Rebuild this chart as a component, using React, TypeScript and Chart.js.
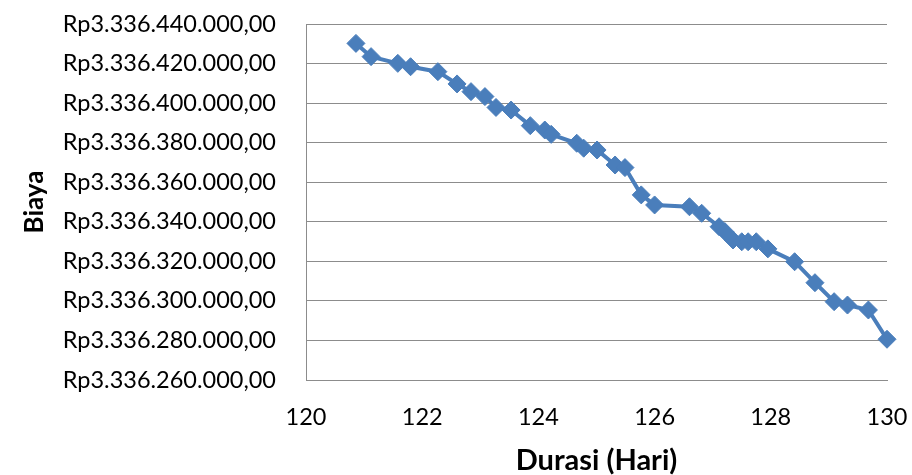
import React, { useEffect, useRef } from "react";
import { Chart, registerables } from "chart.js";

Chart.register(...registerables);

const durasi: number[] = [
  120.86, 121.12, 121.58, 121.8, 122.27, 122.6, 122.84, 123.08, 123.27, 123.53,
  123.86, 124.11, 124.22, 124.66, 124.78, 125.01, 125.32, 125.49, 125.77, 126.0,
  126.6, 126.81, 127.11, 127.21, 127.35, 127.5, 127.61, 127.75, 127.95, 128.41,
  128.76, 129.09, 129.32, 129.68, 130.0,
];

const biaya: number[] = [
  3336430200, 3336423500, 3336420100, 3336418400, 3336415900, 3336409700, 3336405800, 3336403300, 3336397800, 3336396500,
  3336388600, 3336386400, 3336384200, 3336379700, 3336377200, 3336376300, 3336368700, 3336367400, 3336353600, 3336348500,
  3336347600, 3336344300, 3336337500, 3336335000, 3336330800, 3336329900, 3336329900, 3336329900, 3336326300, 3336319800,
  3336309200, 3336299600, 3336297900, 3336295400, 3336280600,
];

const xMin = 120;
const xMax = 130;
const xStep = 2;
const yMin = 3336260000;
const yMax = 3336440000;
const yStep = 20000;

const xTitle = "Durasi (Hari)";
const yTitle = "Biaya";

function formatRp(v: number): string {
  const s = Math.round(v).toString().replace(/\B(?=(\d{3})+(?!\d))/g, ".");
  return "Rp" + s + ",00";
}

export default function App() {
  const ref = useRef<HTMLCanvasElement | null>(null);

  useEffect(() => {
    if (!ref.current) return;
    const color = "#4A7EBB";
    const gridColor = "#8C8C8C";
    const chart = new Chart(ref.current, {
      type: "line",
      data: {
        datasets: [
          {
            data: durasi.map((x, i) => ({ x, y: biaya[i] })),
            borderColor: color,
            backgroundColor: color,
            borderWidth: 4,
            pointStyle: "rectRot",
            pointRadius: 9,
            pointBorderWidth: 1,
            pointBackgroundColor: color,
            pointBorderColor: color,
            tension: 0,
            fill: false,
            clip: false,
          },
        ],
      },
      options: {
        animation: false,
        responsive: false,
        maintainAspectRatio: false,
        layout: { padding: { left: 0, top: 24, right: 25, bottom: 0 } },
        plugins: {
          legend: { display: false },
          tooltip: { enabled: false },
        },
        scales: {
          x: {
            type: "linear",
            min: xMin,
            max: xMax,
            ticks: {
              stepSize: xStep,
              padding: 0,
              color: "#000",
              font: { family: "Lato", size: 23.5, lineHeight: 1.2 },
              maxRotation: 0,
            },
            grid: {
              display: true,
              color: "rgba(0,0,0,0)",
              drawTicks: true,
              tickLength: 23,
              tickColor: "rgba(0,0,0,0)",
            },
            border: { display: true, color: gridColor, width: 1 },
            title: {
              display: true,
              text: xTitle,
              color: "#000",
              font: { family: "Lato", size: 29, weight: "bold", lineHeight: 1.2 },
              padding: { top: 0, bottom: -3 },
            },
            afterFit: (s: any) => {
              s.height = 95;
            },
          },
          y: {
            type: "linear",
            min: yMin,
            max: yMax,
            ticks: {
              stepSize: yStep,
              padding: 0,
              color: "#000",
              font: { family: "Lato", size: 23.5, lineHeight: 1.2 },
              callback: (v: any) => formatRp(Number(v)),
            },
            grid: {
              display: true,
              color: gridColor,
              lineWidth: 1,
              drawTicks: true,
              tickLength: 30,
              tickColor: "rgba(0,0,0,0)",
            },
            border: { display: true, color: gridColor, width: 1 },
            title: {
              display: true,
              text: yTitle,
              color: "#000",
              font: { family: "Lato", size: 26, weight: "bold", lineHeight: 1.2 },
              padding: { top: 19, bottom: 0 },
            },
            afterFit: (s: any) => {
              s.width = 306;
            },
          },
        },
      },
    });
    return () => chart.destroy();
  }, []);

  return (
    <div style={{ position: "fixed", left: 0, top: 0, width: 912, height: 475, background: "#fff" }}>
      <canvas ref={ref} width={912} height={475} style={{ width: 912, height: 475, display: "block" }} />
    </div>
  );
}
